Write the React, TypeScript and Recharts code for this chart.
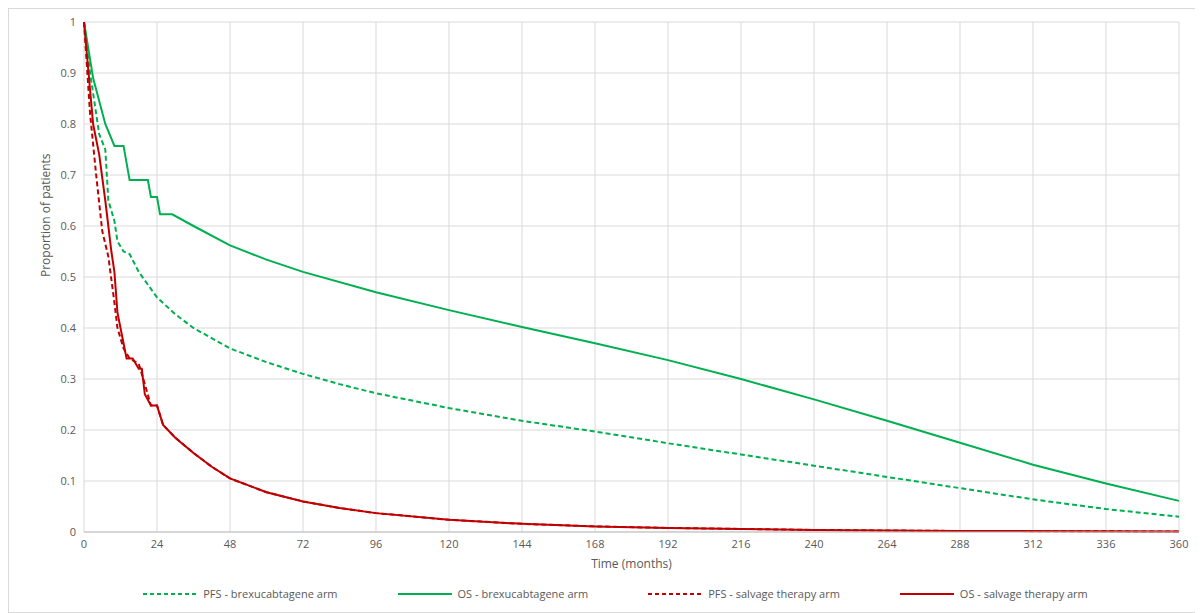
import { LineChart, Line, XAxis, YAxis, CartesianGrid, Legend } from 'recharts';

const months = [0, 24, 48, 72, 96, 120, 144, 168, 192, 216, 240, 264, 288, 312, 336, 360];
const yTicks = [0, 0.1, 0.2, 0.3, 0.4, 0.5, 0.6, 0.7, 0.8, 0.9, 1];

const pfsBrexT = [0, 2, 5, 7, 8, 10, 11, 13, 15, 18, 24, 30, 36, 48, 60, 72, 84, 96, 120, 144, 168, 192, 216, 240, 264, 288, 312, 336, 360];
const pfsBrexV = [1, 0.9, 0.78, 0.75, 0.65, 0.61, 0.57, 0.55, 0.545, 0.51, 0.46, 0.427, 0.4, 0.36, 0.333, 0.31, 0.29, 0.272, 0.243, 0.218, 0.197, 0.174, 0.152, 0.13, 0.108, 0.086, 0.064, 0.045, 0.03];

const osBrexT = [0, 3, 7, 10, 13, 15, 21, 22, 24, 25, 29, 36, 48, 60, 72, 96, 120, 144, 168, 192, 216, 240, 264, 288, 312, 336, 360];
const osBrexV = [1, 0.89, 0.8, 0.757, 0.757, 0.69, 0.69, 0.657, 0.657, 0.623, 0.623, 0.6, 0.562, 0.534, 0.51, 0.47, 0.435, 0.402, 0.37, 0.337, 0.3, 0.26, 0.218, 0.175, 0.132, 0.095, 0.061];

const pfsSalvT = [0, 2, 4, 6, 8, 10, 11, 13, 15, 18, 20, 22, 24, 26, 30, 36, 42, 48, 60, 72, 84, 96, 120, 144, 168, 192, 216, 240, 288, 360];
const pfsSalvV = [1, 0.82, 0.7, 0.59, 0.54, 0.45, 0.4, 0.36, 0.34, 0.33, 0.29, 0.248, 0.248, 0.21, 0.185, 0.155, 0.128, 0.105, 0.078, 0.06, 0.047, 0.037, 0.024, 0.016, 0.011, 0.008, 0.006, 0.004, 0.002, 0.001];

const osSalvT = [0, 3, 5, 7, 9, 10, 11, 13, 14, 16, 18, 19, 20, 22, 24, 26, 30, 36, 42, 48, 60, 72, 84, 96, 120, 144, 168, 192, 216, 240, 288, 360];
const osSalvV = [1, 0.8, 0.74, 0.65, 0.55, 0.51, 0.43, 0.37, 0.34, 0.34, 0.32, 0.32, 0.27, 0.248, 0.248, 0.21, 0.185, 0.155, 0.128, 0.105, 0.078, 0.06, 0.047, 0.037, 0.024, 0.016, 0.011, 0.008, 0.006, 0.004, 0.002, 0.001];

const seriesNames = ['PFS - brexucabtagene arm', 'OS - brexucabtagene arm', 'PFS - salvage therapy arm', 'OS - salvage therapy arm'];

const toPts = (t: number[], v: number[]) => t.map((x, i) => ({ t: x, v: v[i] }));

const GREEN = '#00b050';
const RED = '#c00000';
const legendStyle = [
  { color: GREEN, dash: '4 3' },
  { color: GREEN, dash: undefined },
  { color: RED, dash: '4 3' },
  { color: RED, dash: undefined },
];

function ChartLegend() {
  return (
    <div style={{ display: 'flex', justifyContent: 'center', gap: 60, fontSize: 11, color: '#595959', paddingLeft: 20 }}>
      {seriesNames.map((n, i) => (
        <div key={n} style={{ display: 'flex', alignItems: 'center', gap: 6 }}>
          <svg width={54} height={6}>
            <line x1={0} y1={3} x2={54} y2={3} stroke={legendStyle[i].color} strokeWidth={2} strokeDasharray={legendStyle[i].dash} />
          </svg>
          <span>{n}</span>
        </div>
      ))}
    </div>
  );
}

export default function App() {
  return (
    <div style={{ width: 1195, height: 605, border: '1px solid #d9d9d9', fontFamily: 'Open Sans, sans-serif', boxSizing: 'border-box' }}>
      <LineChart width={1193} height={603} margin={{ top: 13, right: 23, bottom: 20, left: 23 }}>
        <CartesianGrid stroke="#d9d9d9" />
        <XAxis type="number" dataKey="t" domain={[0, 360]} ticks={months} interval={0}
          tick={{ fontSize: 11, fill: '#595959' }} tickLine={false} axisLine={{ stroke: '#bfbfbf' }}
          label={{ value: 'Time (months)', position: 'insideBottom', offset: -6, fontSize: 12, fill: '#595959' }} />
        <YAxis type="number" domain={[0, 1]} ticks={yTicks} interval={0} width={52}
          tick={{ fontSize: 11, fill: '#595959' }} tickLine={false} axisLine={false}
          label={{ value: 'Proportion of patients', angle: -90, position: 'insideLeft', offset: 14, fontSize: 12, fill: '#595959' }} />
        <Legend verticalAlign="bottom" height={30} wrapperStyle={{ bottom: -4 }} content={() => <ChartLegend />} />
        <Line data={toPts(pfsBrexT, pfsBrexV)} dataKey="v" name={seriesNames[0]} stroke={GREEN} strokeWidth={2} strokeDasharray="5 3" dot={false} isAnimationActive={false} />
        <Line data={toPts(osBrexT, osBrexV)} dataKey="v" name={seriesNames[1]} stroke={GREEN} strokeWidth={2} dot={false} isAnimationActive={false} />
        <Line data={toPts(pfsSalvT, pfsSalvV)} dataKey="v" name={seriesNames[2]} stroke={RED} strokeWidth={2} strokeDasharray="5 3" dot={false} isAnimationActive={false} />
        <Line data={toPts(osSalvT, osSalvV)} dataKey="v" name={seriesNames[3]} stroke={RED} strokeWidth={2} dot={false} isAnimationActive={false} />
      </LineChart>
    </div>
  );
}
